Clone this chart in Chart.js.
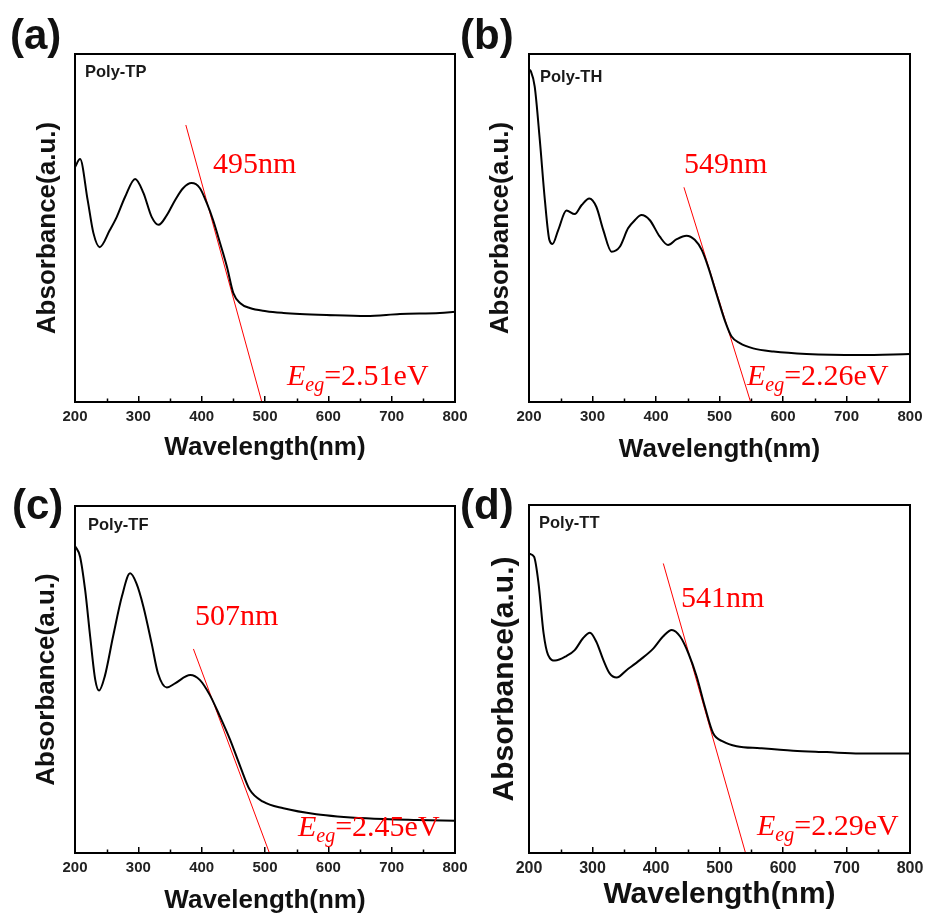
<!DOCTYPE html>
<html>
<head>
<meta charset="utf-8">
<title>UV-Vis absorbance</title>
<script src="https://cdn.jsdelivr.net/npm/chart.js@4.4.1/dist/chart.umd.min.js"></script>
<style>
  html, body { margin: 0; padding: 0; background: #fff; overflow: hidden; }
  #wrap { position: relative; width: 925px; height: 913px; overflow: hidden; }
  #wrap canvas { position: absolute; left: 0; top: 0; }
</style>
</head>
<body>
<div id="wrap">
  <canvas id="chartA" width="1000" height="930"></canvas>
  <canvas id="chartB" width="1000" height="930"></canvas>
  <canvas id="chartC" width="1000" height="930"></canvas>
  <canvas id="chartD" width="1000" height="930"></canvas>
</div>
<script>
// Absorbance spectra (arbitrary units, 0-100 of the axis height)
const wlTP  = [200, 208, 220, 229, 239, 255, 266, 279, 295, 308, 321, 332, 345, 358, 371, 384, 397, 408, 418, 429, 440, 450, 461, 476, 502, 529, 555, 597, 660, 713, 776, 800];
const absTP = [67.5, 69.8, 58.0, 48.6, 44.5, 49.4, 53.2, 58.9, 64.1, 60.1, 53.2, 50.9, 53.7, 58.0, 61.5, 62.9, 61.5, 57.2, 52.3, 45.7, 38.8, 31.3, 28.4, 27.0, 26.1, 25.6, 25.3, 25.0, 24.7, 25.3, 25.6, 25.9];

const wlTH  = [200, 203, 209, 217, 225, 232, 237, 246, 259, 272, 283, 295, 306, 317, 330, 343, 356, 367, 377, 390, 406, 419, 432, 448, 461, 472, 482, 495, 509, 519, 532, 553, 585, 637, 721, 800];
const absTH = [95.5, 95.0, 90.6, 75.3, 58.0, 46.6, 45.4, 49.4, 55.0, 54.0, 56.6, 58.5, 56.1, 49.4, 43.2, 44.6, 49.9, 52.3, 53.7, 52.3, 47.5, 45.1, 46.7, 47.8, 46.6, 43.7, 38.9, 31.2, 23.1, 18.8, 16.9, 15.4, 14.5, 13.8, 13.5, 13.8];

const wlTF  = [200, 208, 216, 224, 232, 238, 247, 260, 274, 287, 297, 308, 321, 331, 345, 358, 382, 397, 413, 429, 445, 461, 476, 497, 529, 581, 660, 740, 800];
const absTF = [88.5, 85.4, 75.8, 62.3, 49.9, 46.8, 50.9, 62.3, 73.9, 80.6, 77.7, 71.0, 60.4, 51.8, 47.7, 48.9, 51.3, 49.9, 45.5, 39.3, 32.6, 24.9, 18.2, 14.8, 12.9, 11.2, 10.0, 9.5, 9.3];

const wlTT  = [200, 208, 215, 223, 230, 241, 259, 272, 285, 296, 306, 317, 327, 338, 354, 375, 396, 411, 425, 438, 451, 464, 477, 490, 506, 527, 564, 616, 669, 721, 800];
const absTT = [86.0, 85.1, 77.5, 63.1, 56.9, 55.3, 56.6, 58.3, 61.7, 63.3, 60.7, 55.5, 51.6, 50.4, 52.6, 55.5, 58.8, 62.2, 64.1, 62.2, 57.4, 50.7, 42.0, 34.4, 32.0, 30.7, 30.1, 29.4, 29.0, 28.6, 28.6];

// Absorption edge from the tangent intercept, and the optical gap
const edgeNm  = [495, 549, 507, 541];
const gapEv   = ['2.51', '2.26', '2.45', '2.29'];
// Where each tangent starts (wavelength, absorbance)
const tanStartNm  = [375, 444, 387, 411.5];
const tanStartAbs = [79.6, 61.7, 58.8, 83.2];

const polymers = ['Poly-TP', 'Poly-TH', 'Poly-TF', 'Poly-TT'];
const tags = ['(a)', '(b)', '(c)', '(d)'];
const xTicks = [200, 300, 400, 500, 600, 700, 800];

const SANS = '"Liberation Sans", Arial, Helvetica, sans-serif';
const SERIF = '"Liberation Serif", "Times New Roman", serif';
const Y_AXIS_W = 75;
const X_AXIS_H = 70;
const CANVAS_W = 1000, CANVAS_H = 930;

// Frame of each plot on the page, fonts and label anchors
const panels = [
  { id: 'chartA', wl: wlTP, abs: absTP, box: {l: 75, t: 54, r: 455, b: 402},
    tickSize: 15, tickPad: 12, titleSize: 26, xTitlePad: 8.4, yTitlePad: 32,
    tagDx: -65, tagDy: -5, nameAt: {x: 215.8, y: 93.5}, edgeAt: {x: 417.9, y: 65.8}, gapAt: {x: 534.7, y: 4.9} },
  { id: 'chartB', wl: wlTH, abs: absTH, box: {l: 529, t: 54, r: 910, b: 402},
    tickSize: 15, tickPad: 12, titleSize: 26, xTitlePad: 6.1, yTitlePad: 31.6,
    tagDx: -69, tagDy: -5, nameAt: {x: 217.3, y: 92.0}, edgeAt: {x: 444.1, y: 65.8}, gapAt: {x: 543.3, y: 4.9} },
  { id: 'chartC', wl: wlTF, abs: absTF, box: {l: 75, t: 506, r: 455, b: 853},
    tickSize: 15, tickPad: 11.5, titleSize: 26, xTitlePad: 6.1, yTitlePad: 31.3,
    tagDx: -63, tagDy: 13, nameAt: {x: 220.5, y: 93.1}, edgeAt: {x: 389.5, y: 65.7}, gapAt: {x: 552.1, y: 4.9} },
  { id: 'chartD', wl: wlTT, abs: absTT, box: {l: 529, t: 505, r: 910, b: 853},
    tickSize: 16, tickPad: 11.7, titleSize: 30, xTitlePad: 10.4, yTitlePad: 32.9,
    tagDx: -69, tagDy: 14, nameAt: {x: 215.7, y: 93.3}, edgeAt: {x: 439.4, y: 70.6}, gapAt: {x: 559.1, y: 5.2} }
];

// Frame, minor ticks, panel tag and the red annotations
function makeDecor(p, i) {
  return {
    id: 'decor' + i,
    afterDraw(chart) {
      const {ctx, chartArea: a, scales: {x, y}} = chart;
      ctx.save();

      ctx.strokeStyle = '#000';
      ctx.lineWidth = 2;
      ctx.strokeRect(a.left, a.top, a.right - a.left, a.bottom - a.top);

      ctx.lineWidth = 1.5;
      ctx.beginPath();
      for (let v = 250; v < 800; v += 100) {
        const px = Math.round(x.getPixelForValue(v)) + 0.5;
        ctx.moveTo(px, a.bottom);
        ctx.lineTo(px, a.bottom - 3.5);
      }
      ctx.stroke();

      ctx.fillStyle = '#111';
      ctx.textBaseline = 'alphabetic';
      ctx.textAlign = 'left';
      ctx.font = 'bold 42px ' + SANS;
      ctx.fillText(tags[i], a.left + p.tagDx, a.top + p.tagDy);

      ctx.font = 'bold 16.5px ' + SANS;
      ctx.fillStyle = '#1a1a1a';
      ctx.fillText(polymers[i], x.getPixelForValue(p.nameAt.x), y.getPixelForValue(p.nameAt.y));

      ctx.fillStyle = '#ff0000';
      ctx.font = '30px ' + SERIF;
      ctx.fillText(edgeNm[i] + 'nm', x.getPixelForValue(p.edgeAt.x), y.getPixelForValue(p.edgeAt.y));

      let gx = x.getPixelForValue(p.gapAt.x);
      const gy = y.getPixelForValue(p.gapAt.y);
      ctx.font = 'italic 30px ' + SERIF;
      ctx.fillText('E', gx, gy);
      gx += ctx.measureText('E').width;
      ctx.font = 'italic 20px ' + SERIF;
      ctx.fillText('eg', gx, gy + 6);
      gx += ctx.measureText('eg').width;
      ctx.font = '30px ' + SERIF;
      ctx.fillText('=' + gapEv[i] + 'eV', gx, gy);

      ctx.restore();
    }
  };
}

panels.forEach((p, i) => {
  const curve = p.wl.map((w, k) => ({x: w, y: p.abs[k]}));
  const tangent = [
    {x: tanStartNm[i], y: tanStartAbs[i]},
    {x: edgeNm[i], y: 0}
  ];

  new Chart(document.getElementById(p.id), {
    type: 'line',
    data: {
      datasets: [
        {
          data: curve,
          borderColor: '#000',
          borderWidth: 2,
          pointRadius: 0,
          cubicInterpolationMode: 'monotone',
          fill: false
        },
        {
          data: tangent,
          borderColor: '#ff0000',
          borderWidth: 1,
          pointRadius: 0,
          tension: 0,
          fill: false
        }
      ]
    },
    options: {
      responsive: false,
      animation: false,
      events: [],
      layout: {
        padding: {
          left: p.box.l - Y_AXIS_W,
          top: p.box.t,
          right: CANVAS_W - p.box.r,
          bottom: CANVAS_H - p.box.b - X_AXIS_H
        }
      },
      plugins: {
        legend: { display: false },
        tooltip: { enabled: false }
      },
      scales: {
        x: {
          type: 'linear',
          min: 200,
          max: 800,
          afterFit: (s) => { s.height = X_AXIS_H; },
          afterBuildTicks: (s) => { s.ticks = xTicks.map(v => ({value: v})); },
          ticks: {
            color: '#222',
            padding: p.tickPad,
            maxRotation: 0,
            autoSkip: false,
            font: { family: SANS, weight: 'bold', size: p.tickSize }
          },
          grid: {
            drawOnChartArea: false,
            drawTicks: true,
            tickLength: -6,
            color: '#000',
            lineWidth: 1.5
          },
          border: { display: false },
          title: {
            display: true,
            text: 'Wavelength(nm)',
            color: '#111',
            font: { family: SANS, weight: 'bold', size: p.titleSize },
            padding: { top: 0, bottom: p.xTitlePad }
          }
        },
        y: {
          min: 0,
          max: 100,
          afterFit: (s) => { s.width = Y_AXIS_W; },
          ticks: { display: false },
          grid: { display: false },
          border: { display: false },
          title: {
            display: true,
            text: 'Absorbance(a.u.)',
            color: '#111',
            font: { family: SANS, weight: 'bold', size: p.titleSize },
            padding: { top: p.yTitlePad, bottom: 0 }
          }
        }
      }
    },
    plugins: [makeDecor(p, i)]
  });
});
</script>
</body>
</html>
